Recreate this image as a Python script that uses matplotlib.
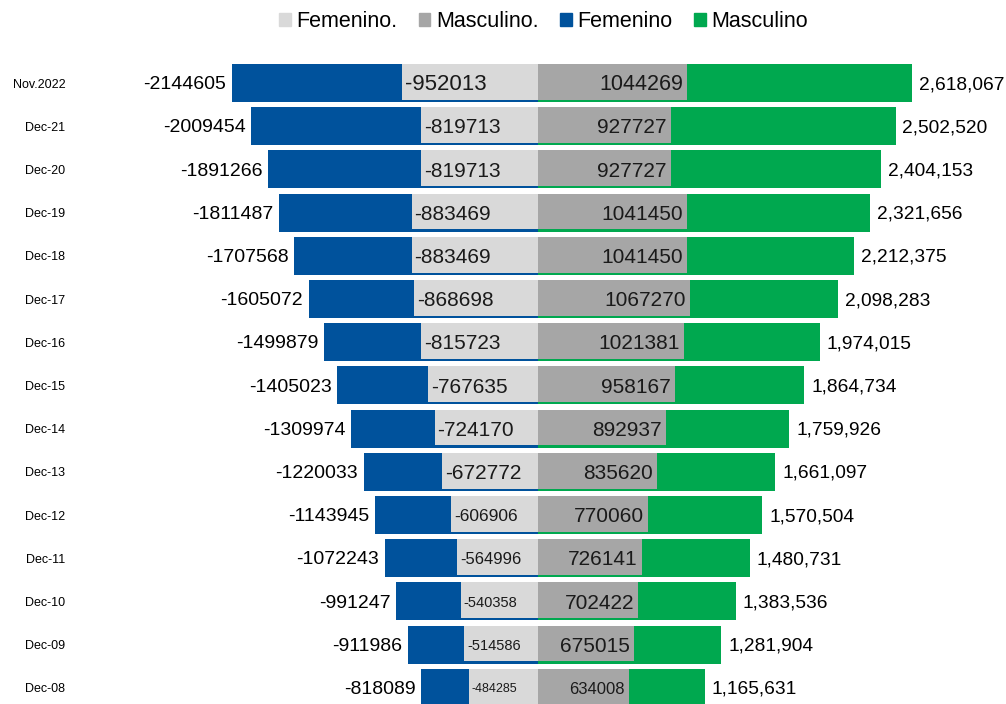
import numpy as np
import matplotlib
matplotlib.use("Agg")
import matplotlib.pyplot as plt
from matplotlib.patches import Patch

plt.rcParams['font.family'] = ['Liberation Sans', 'DejaVu Sans']

periods = ["Nov.2022", "Dec-21", "Dec-20", "Dec-19", "Dec-18", "Dec-17", "Dec-16", "Dec-15",
           "Dec-14", "Dec-13", "Dec-12", "Dec-11", "Dec-10", "Dec-09", "Dec-08"]
femenino = [-2144605, -2009454, -1891266, -1811487, -1707568, -1605072, -1499879, -1405023,
            -1309974, -1220033, -1143945, -1072243, -991247, -911986, -818089]
masculino = [2618067, 2502520, 2404153, 2321656, 2212375, 2098283, 1974015, 1864734,
             1759926, 1661097, 1570504, 1480731, 1383536, 1281904, 1165631]
femenino_p = [-952013, -819713, -819713, -883469, -883469, -868698, -815723, -767635,
              -724170, -672772, -606906, -564996, -540358, -514586, -484285]
masculino_p = [1044269, 927727, 927727, 1041450, 1041450, 1067270, 1021381, 958167,
               892937, 835620, 770060, 726141, 702422, 675015, 634008]

# font sizes for labels inside the grey bars (shrink on the short ones)
fs_fem_p = [16, 15, 15, 15, 15, 15, 15, 15, 15, 15, 12.5, 12, 10.5, 10.5, 9]
fs_mas_p = [15.5, 15, 15, 15, 15, 15, 15, 15, 15, 15, 15, 15, 15, 15, 12]

c_blue = "#00529C"
c_green = "#00A84F"
c_light = "#D9D9D9"
c_grey = "#A6A6A6"

y = np.arange(len(periods))

fig = plt.figure(figsize=(10.06, 7.04), dpi=100)
ax = fig.add_axes([75 / 1006, 0, 1 - 75 / 1006, (704 - 40) / 704])

h = 0.88
ax.barh(y, femenino, height=h, color=c_blue, zorder=2)
ax.barh(y, masculino, height=h, color=c_green, zorder=2)
ax.barh(y - 0.025, femenino_p, height=h - 0.05, color=c_light, zorder=3)
ax.barh(y - 0.025, masculino_p, height=h - 0.05, color=c_grey, zorder=3)

for i in range(len(periods)):
    ax.annotate(str(femenino[i]), (femenino[i], y[i]), xytext=(-4, -1.2), textcoords='offset points',
                ha='right', va='center', fontsize=14, color='black')
    ax.annotate(format(masculino[i], ','), (masculino[i], y[i]), xytext=(5, -1.2), textcoords='offset points',
                ha='left', va='center', fontsize=13.8, color='black')
    ax.annotate(str(femenino_p[i]), (femenino_p[i], y[i]), xytext=(2, -1.2), textcoords='offset points',
                ha='left', va='center', fontsize=fs_fem_p[i], color='#1a1a1a', zorder=5)
    ax.annotate(str(masculino_p[i]), (masculino_p[i], y[i]), xytext=(-3, -1.2), textcoords='offset points',
                ha='right', va='center', fontsize=fs_mas_p[i], color='#1a1a1a', zorder=5)

ax.set_xlim((75 - 538) * 7000, (1006 - 538) * 7000)
ax.set_ylim((704 - 83) / 43.2, -(83 - 40) / 43.2)
ax.set_yticks(y)
ax.set_yticklabels(periods, fontsize=9)
ax.tick_params(axis='y', length=0, pad=7)
ax.set_xticks([])
for s in ax.spines.values():
    s.set_visible(False)

handles = [Patch(color=c_light, label="Femenino."), Patch(color=c_grey, label="Masculino."),
           Patch(color=c_blue, label="Femenino"), Patch(color=c_green, label="Masculino")]
fig.legend(handles=handles, loc='upper center', bbox_to_anchor=(0.54, 1.012), ncol=4, frameon=False,
           fontsize=15.5, handlelength=0.55, handleheight=0.55, handletextpad=0.25, columnspacing=1.0)

fig.savefig("out.png", dpi=100)
